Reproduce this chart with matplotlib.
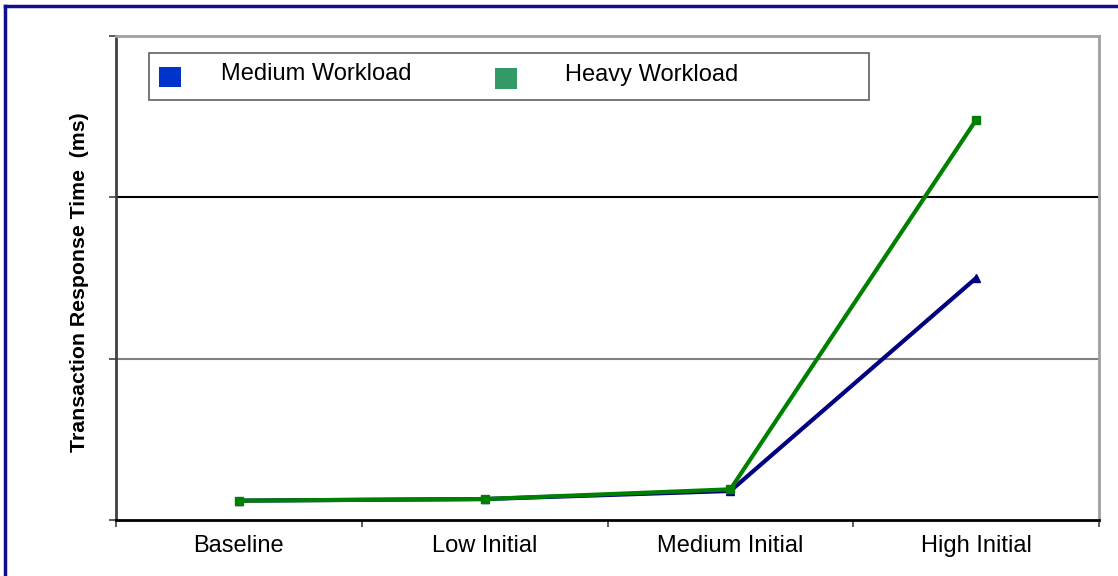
import matplotlib
matplotlib.use("Agg")
import matplotlib.pyplot as plt
from matplotlib.lines import Line2D
from matplotlib.patches import Rectangle

plt.rcParams['font.family'] = ['Liberation Sans', 'DejaVu Sans']

categories = ["Baseline", "Low Initial", "Medium Initial", "High Initial"]
medium_workload = [12, 13, 18, 150]
heavy_workload = [12, 13, 19, 248]
series_names = ["Medium Workload", "Heavy Workload"]

W, H = 1118, 576
fig = plt.figure(figsize=(W / 100, H / 100), dpi=100)

def fx(px):
    return px / W

def fy(py):
    return 1 - py / H

ax = fig.add_axes([fx(116), fy(520), fx(1099) - fx(116), fy(36) - fy(520)])

x = list(range(len(categories)))
ax.plot(x, medium_workload, color="#000080", lw=3, marker="^", ms=6,
        markeredgecolor="#000080", markerfacecolor="#000080", zorder=3)
ax.plot(x, heavy_workload, color="#008000", lw=3, marker="s", ms=6,
        markeredgecolor="#008000", markerfacecolor="#008000", zorder=4)

ax.set_xlim(-0.5, len(categories) - 0.5)
ax.set_ylim(0, 300)

# horizontal gridlines
ax.axhline(100, color="#808080", lw=1.5, zorder=1)
ax.axhline(200, color="#000000", lw=1.5, zorder=1)

ax.set_yticks([0, 100, 200, 300])
ax.set_yticklabels([])
ax.tick_params(axis="y", direction="out", length=5, width=1.2, color="#404040")

ax.set_xticks(x)
ax.set_xticklabels(categories, fontsize=17)
ax.set_xticks([i - 0.5 for i in range(len(categories) + 1)], minor=True)
ax.tick_params(axis="x", which="major", length=0, pad=11)
ax.tick_params(axis="x", which="minor", direction="out", length=5, width=1.2, color="#404040")

ax.spines["left"].set_color("#404040")
ax.spines["left"].set_linewidth(2)
ax.spines["bottom"].set_color("#000000")
ax.spines["bottom"].set_linewidth(2)
for s in ("top", "right"):
    ax.spines[s].set_color("#a0a0a0")
    ax.spines[s].set_linewidth(2)

fig.text(fx(80), fy(282), "Transaction Response Time  (ms)", rotation=90,
         fontsize=15.3, fontweight="bold", ha="center", va="center")

# legend box
fig.add_artist(Rectangle((fx(149), fy(100)), fx(869) - fx(149), fy(53) - fy(100),
                         transform=fig.transFigure, facecolor="white",
                         edgecolor="#606060", lw=1.2, zorder=5))
fig.add_artist(Rectangle((fx(159), fy(87)), fx(181) - fx(159), fy(67) - fy(87),
                         transform=fig.transFigure, facecolor="#0033cc",
                         edgecolor="none", zorder=6))
fig.add_artist(Rectangle((fx(495), fy(89)), fx(517) - fx(495), fy(68) - fy(89),
                         transform=fig.transFigure, facecolor="#339966",
                         edgecolor="none", zorder=6))
fig.text(fx(221), fy(74.5), series_names[0], fontsize=17, ha="left", va="center", zorder=7)
fig.text(fx(565), fy(74.5), series_names[1], fontsize=17, ha="left", va="center", zorder=7)

# outer frame
fig.add_artist(Line2D([fx(5), 1], [fy(6), fy(6)], color="#10108c", lw=2.5,
                      transform=fig.transFigure))
fig.add_artist(Line2D([fx(5), fx(5)], [fy(6), 0], color="#10108c", lw=2.5,
                      transform=fig.transFigure))

fig.savefig("out.png", dpi=100)
